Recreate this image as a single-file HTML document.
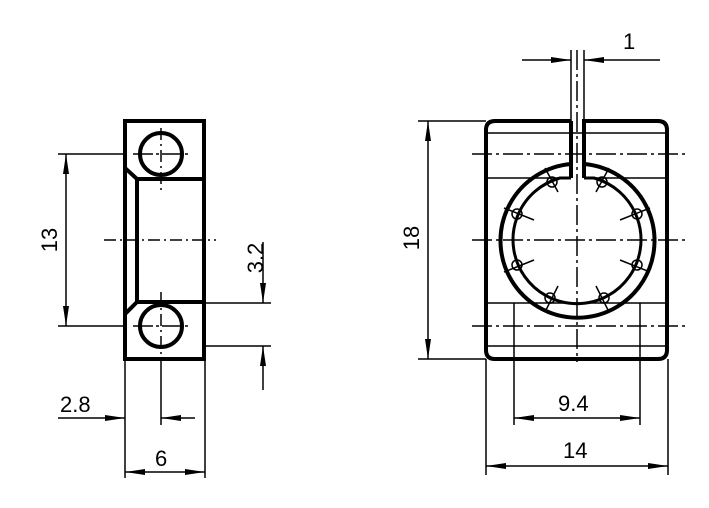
<!DOCTYPE html>
<html><head><style>body{margin:0;background:#fff}svg{display:block}text{font-family:"Liberation Sans",sans-serif;font-size:22px;fill:#000}</style></head>
<body>
<svg width="709" height="508" viewBox="0 0 709 508" xmlns="http://www.w3.org/2000/svg">
<defs>
<marker id="a" viewBox="0 0 20 8" refX="20" refY="4" markerWidth="20" markerHeight="8" markerUnits="userSpaceOnUse" orient="auto-start-reverse"><path d="M0,1 L20,4 L0,7 Z" fill="#000"/></marker>
</defs>
<g stroke="#000" fill="none">
<!-- left view -->
<rect x="125" y="121" width="79" height="238" stroke-width="4"/>
<circle cx="161" cy="154" r="21" stroke-width="4"/>
<circle cx="161" cy="326" r="21" stroke-width="4"/>
<path d="M125,168 L137,179 L204,179 M137,179 L137,302 M125,314 L137,302 L204,302" stroke-width="4"/>
<g stroke-width="1.5">
<path d="M104,240 H216" stroke-dasharray="12,4,2,4"/>
<path d="M161,128 V190 M161,292 V360" stroke-dasharray="12,4,2,4"/>
<path d="M133,154 H190 M133,326 H190" stroke-dasharray="20,3,3,3"/>
<path d="M58,154 H124 M58,326 H124"/>
<path d="M66,154 V326" marker-start="url(#a)" marker-end="url(#a)"/>
<path d="M204,303 H271 M204,346 H271"/>
<path d="M263,242 V303" marker-end="url(#a)"/>
<path d="M263,390 V346" marker-end="url(#a)"/>
<path d="M125,360 V478 M161,360 V425 M205,360 V478"/>
<path d="M58,418 H125" marker-end="url(#a)"/>
<path d="M195,418 H161" marker-end="url(#a)"/>
<path d="M125,472 H205" marker-start="url(#a)" marker-end="url(#a)"/>
</g>
<!-- right view -->
<path d="M571,121 H495 Q486,121 486,130 V350 Q486,359 495,359 H658 Q667,359 667,350 V130 Q667,121 658,121 H584 V178 M571,121 V178" stroke-width="4"/>
<path d="M571,164 A77,77 0 1 0 584,164" stroke-width="4"/>
<path d="M571,178 H560 A64,64 0 1 0 594,178 H584" stroke-width="3"/>
<g stroke-width="1.5">
<circle cx="552" cy="182" r="5"/><circle cx="602" cy="182" r="5"/>
<circle cx="517" cy="214" r="5"/><circle cx="637" cy="214" r="5"/>
<circle cx="517" cy="265" r="5"/><circle cx="637" cy="265" r="5"/>
<circle cx="550" cy="298" r="5"/><circle cx="604" cy="298" r="5"/>
<path d="M545,168 L558,192 M609,168 L596,192 M504,208 L534,220 M650,208 L620,220 M504,272 L534,260 M650,272 L620,260 M546,310 L558,286 M608,310 L596,286"/>
<path d="M486,133 H667 M486,178 H571 M584,178 H667 M486,303 H667 M486,346 H667"/>
<path d="M472,154 H686 M472,240 H686 M472,326 H686" stroke-dasharray="20,4,3,4"/>
<path d="M577,50 V362" stroke-dasharray="20,4,3,4"/>
<path d="M571,50 V121 M584,50 V121"/>
<path d="M522,60 H571" marker-end="url(#a)"/>
<path d="M660,60 H584" marker-end="url(#a)"/>
<path d="M418,121 H486 M418,359 H486"/>
<path d="M428,121 V359" marker-start="url(#a)" marker-end="url(#a)"/>
<path d="M514,303 V425 M640,303 V425"/>
<path d="M514,418 H640" marker-start="url(#a)" marker-end="url(#a)"/>
<path d="M486,359 V475 M668,359 V475"/>
<path d="M486,466 H668" marker-start="url(#a)" marker-end="url(#a)"/>
</g>
</g>
<text x="60" y="412">2.8</text>
<text x="155" y="466">6</text>
<text x="558" y="411">9.4</text>
<text x="563" y="458">14</text>
<text x="623" y="49">1</text>
<text transform="translate(57,240) rotate(-90)" text-anchor="middle">13</text>
<text transform="translate(263,258) rotate(-90)" text-anchor="middle">3.2</text>
<text transform="translate(419,238) rotate(-90)" text-anchor="middle">18</text>
</svg>
</body></html>
